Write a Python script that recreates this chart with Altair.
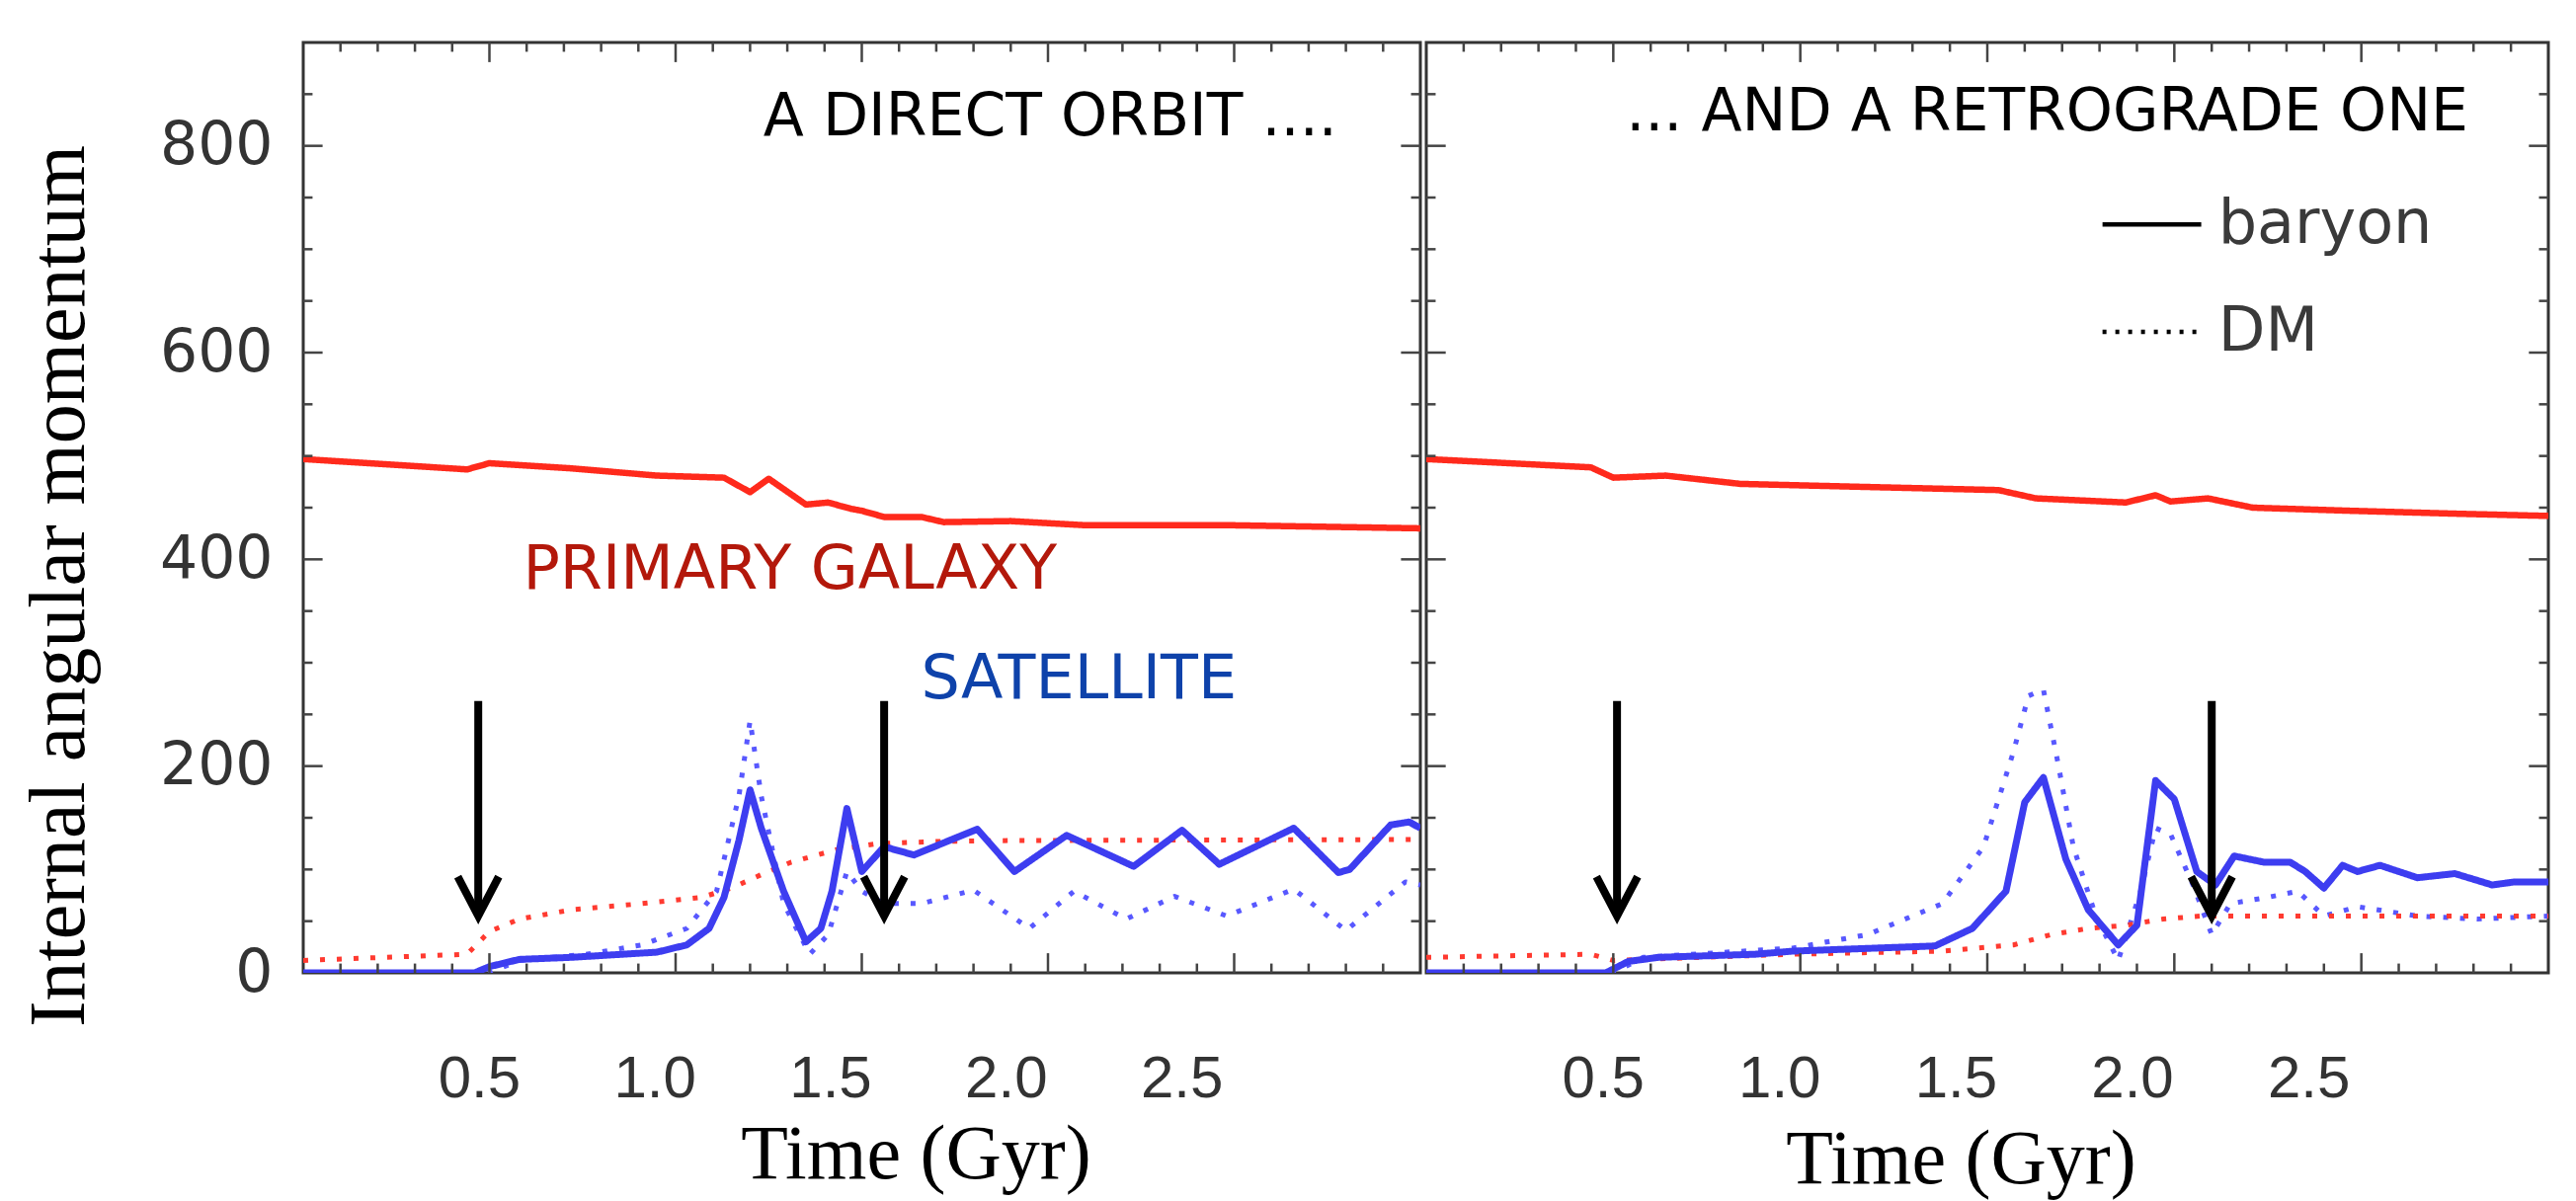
import altair as alt
import pandas as pd

# ---------------- data ----------------
# Left panel: direct orbit
dir_pri_bar_t = [0.0, 0.44, 0.50, 0.72, 0.95, 1.13, 1.20, 1.25, 1.35, 1.41, 1.47, 1.50, 1.56, 1.66, 1.72, 1.90, 2.10, 2.49, 3.0]
dir_pri_bar_v = [497, 487, 493, 488, 481, 479, 465, 478, 453, 455, 449, 447, 441, 441, 436, 437, 433, 433, 430]
dir_pri_dm_t = [0.0, 0.44, 0.50, 0.58, 0.72, 0.91, 1.07, 1.15, 1.23, 1.31, 1.43, 1.54, 1.70, 1.90, 3.0]
dir_pri_dm_v = [12, 18, 40, 52, 61, 67, 73, 82, 95, 107, 119, 125, 127, 128, 129]
dir_sat_bar_t = [0.0, 0.46, 0.50, 0.58, 0.72, 0.95, 1.03, 1.09, 1.13, 1.17, 1.20, 1.23, 1.29, 1.35, 1.39, 1.42, 1.46,
                 1.50, 1.56, 1.64, 1.81, 1.91, 2.05, 2.23, 2.36, 2.46, 2.66, 2.78, 2.81, 2.92, 2.97, 3.0]
dir_sat_bar_v = [0, 0, 6, 13, 15, 20, 27, 43, 73, 128, 177, 140, 79, 30, 43, 79, 159,
                 98, 122, 114, 139, 98, 133, 103, 138, 105, 140, 97, 100, 143, 146, 140]
dir_sat_dm_t = [0.0, 0.50, 0.58, 0.76, 0.91, 1.03, 1.11, 1.17, 1.20, 1.23, 1.29, 1.36, 1.41, 1.46, 1.50, 1.56,
                1.66, 1.80, 1.95, 2.07, 2.21, 2.34, 2.48, 2.66, 2.80, 2.96, 3.0]
dir_sat_dm_v = [0, 0, 12, 18, 27, 43, 79, 171, 244, 171, 67, 18, 37, 98, 79, 67,
                67, 80, 43, 79, 52, 74, 55, 81, 41, 88, 85]

# Right panel: retrograde orbit
ret_pri_bar_t = [0.0, 0.44, 0.50, 0.64, 0.84, 1.18, 1.53, 1.63, 1.87, 1.95, 1.99, 2.09, 2.21, 2.47, 2.77, 3.0]
ret_pri_bar_v = [497, 489, 479, 481, 473, 470, 467, 459, 455, 462, 456, 459, 450, 447, 444, 442]
ret_pri_dm_t = [0.0, 0.44, 0.50, 0.98, 1.38, 1.57, 1.67, 1.77, 1.87, 1.97, 2.07, 3.0]
ret_pri_dm_v = [15, 18, 12, 18, 21, 27, 37, 43, 46, 52, 55, 55]
ret_sat_bar_t = [0.0, 0.48, 0.54, 0.62, 0.88, 0.98, 1.36, 1.46, 1.55, 1.60, 1.65, 1.71, 1.77, 1.85, 1.90, 1.95,
                 2.00, 2.06, 2.11, 2.16, 2.24, 2.31, 2.35, 2.40, 2.45, 2.49, 2.55, 2.65, 2.75, 2.85, 2.91, 3.0]
ret_sat_bar_v = [0, 0, 11, 15, 18, 21, 26, 43, 79, 165, 189, 110, 61, 27, 46, 186,
                 168, 98, 85, 113, 107, 107, 98, 82, 104, 98, 104, 92, 96, 85, 88, 88]
ret_sat_dm_t = [0.0, 0.50, 0.58, 0.98, 1.18, 1.38, 1.49, 1.57, 1.61, 1.65, 1.69, 1.73, 1.79, 1.85, 1.91, 1.95,
                1.99, 2.05, 2.10, 2.15, 2.25, 2.33, 2.40, 2.49, 2.65, 2.81, 3.0]
ret_sat_dm_v = [0, 0, 15, 24, 37, 67, 122, 214, 268, 274, 201, 122, 55, 12, 79, 140,
                134, 85, 37, 67, 73, 79, 55, 64, 55, 52, 55]

# arrows (time of arrow, shaft top value, tip value)
arrow_t_dir = [0.47, 1.56]
arrow_t_ret = [0.51, 2.10]
arrow_top = [263]
arrow_tip = [55]

# axis ticks
x_labels = [0.5, 1.0, 1.5, 2.0, 2.5]
x_ticks = [0.1, 0.2, 0.3, 0.4, 0.5, 0.6, 0.7, 0.8, 0.9, 1.0, 1.1, 1.2, 1.3, 1.4, 1.5, 1.6, 1.7, 1.8, 1.9,
           2.0, 2.1, 2.2, 2.3, 2.4, 2.5, 2.6, 2.7, 2.8, 2.9]
y_labels = [0, 200, 400, 600, 800]
y_ticks = [50, 100, 150, 200, 250, 300, 350, 400, 450, 500, 550, 600, 650, 700, 750, 800, 850]
# the tick-label strip of the original figure is drawn at a slightly different scale
label_axis_domain = [0, 3.18]

# annotation texts
title_dir = ["A DIRECT ORBIT ...."]
title_ret = ["... AND A RETROGRADE ONE"]
label_primary = ["PRIMARY GALAXY"]
label_satellite = ["SATELLITE"]
legend_names = ["baryon", "DM"]

# ---------------- helpers ----------------
SERIES = ["sat_dm", "pri_dm", "pri_bar", "sat_bar"]
COLORS = ["#5858ff", "#ff3a30", "#ff2a1c", "#3d3df0"]
DASHES = [[5, 12], [5, 12], [1, 0], [1, 0]]
WIDTHS = [5, 5, 6.5, 7]

XS = alt.Scale(domain=[0, 3], nice=False, zero=False)
XL = alt.Scale(domain=label_axis_domain, nice=False, zero=False)
YS = alt.Scale(domain=[0, 900], nice=False, zero=False)


def make_y_axis(show_y):
    if not show_y:
        return None
    return alt.Axis(values=y_labels, tickSize=0, domain=False, grid=False,
                    labelFont="DejaVu Sans", labelFontSize=60, labelColor="#333333",
                    labelPadding=31,
                    title="Internal angular momentum", titleFont="Liberation Serif",
                    titleFontSize=80, titleFontWeight="normal", titleColor="black",
                    titleX=-247, titleY=550, titleAlign="center", titleBaseline="middle")


def lines_df(pb_t, pb_v, pd_t, pd_v, sb_t, sb_v, sd_t, sd_v):
    rows = []
    for name, ts, vs in [("pri_bar", pb_t, pb_v), ("pri_dm", pd_t, pd_v),
                         ("sat_bar", sb_t, sb_v), ("sat_dm", sd_t, sd_v)]:
        for t, v in zip(ts, vs):
            rows.append({"t": t, "v": v, "series": name})
    return pd.DataFrame(rows)


def panel(lines, arrows, texts, legend, show_y, xtitle_x, xtitle_y, width):
    ya = make_y_axis(show_y)

    def X(f):
        return alt.X(f, scale=XS, axis=None)

    def Y(f):
        return alt.Y(f, scale=YS, axis=ya)

    layers = []
    # data lines
    for s, c, d, w in zip(SERIES, COLORS, DASHES, WIDTHS):
        sub = lines[lines["series"] == s]
        layers.append(alt.Chart(sub).mark_line(color=c, strokeDash=d, strokeWidth=w, clip=True,
                                               strokeJoin="round")
                      .encode(x=X("t:Q"), y=Y("v:Q")))
    # inward ticks
    xr = []
    for p in x_ticks:
        ln = 19 if p in x_labels else 9
        xr.append({"t": p, "v": 0, "v2": ln})
        xr.append({"t": p, "v": 900, "v2": 900 - ln})
    yr = []
    for q in y_ticks:
        ln = 0.052 if q in y_labels else 0.025
        yr.append({"v": q, "t": 0, "t2": ln})
        yr.append({"v": q, "t": 3, "t2": 3 - ln})
    layers.append(alt.Chart(pd.DataFrame(xr)).mark_rule(stroke="#444444", strokeWidth=2.5).encode(
        x=X("t:Q"), y=Y("v:Q"), y2="v2:Q"))
    layers.append(alt.Chart(pd.DataFrame(yr)).mark_rule(stroke="#444444", strokeWidth=2.5).encode(
        x=X("t:Q"), x2="t2:Q", y=Y("v:Q")))
    # arrows
    shaft = pd.DataFrame({"t": arrows, "v": arrow_top * len(arrows), "v2": arrow_tip * len(arrows)})
    head_rows = []
    for i, t in enumerate(arrows):
        head_rows.append({"a": i, "o": 0, "t": t - 0.055, "v": arrow_tip[0] + 38})
        head_rows.append({"a": i, "o": 1, "t": t, "v": arrow_tip[0]})
        head_rows.append({"a": i, "o": 2, "t": t + 0.055, "v": arrow_tip[0] + 38})
    layers.append(alt.Chart(shaft).mark_rule(stroke="black", strokeWidth=8).encode(
        x=X("t:Q"), y=Y("v:Q"), y2="v2:Q"))
    layers.append(alt.Chart(pd.DataFrame(head_rows)).mark_line(
        stroke="black", strokeWidth=8, strokeJoin="miter", strokeCap="butt").encode(
        x=X("t:Q"), y=Y("v:Q"), detail="a:N", order="o:Q"))
    # annotation texts
    for txt, t, v, color, size in texts:
        df = pd.DataFrame({"txt": txt, "t": [t], "v": [v]})
        layers.append(alt.Chart(df).mark_text(font="DejaVu Sans", fontSize=size, color=color,
                                              align="center", baseline="middle").encode(
            x=X("t:Q"), y=Y("v:Q"), text="txt:N"))
    # legend
    if legend:
        for name, v, dash in [(legend_names[0], 724, [1, 0]), (legend_names[1], 620, [4, 9])]:
            ldf = pd.DataFrame({"t": [1.808], "t2": [2.072], "v": [v], "tt": [2.117], "name": [name]})
            layers.append(alt.Chart(ldf).mark_rule(strokeWidth=4.5, color="black", strokeDash=dash).encode(
                x=X("t:Q"), x2="t2:Q", y=Y("v:Q")))
            layers.append(alt.Chart(ldf).mark_text(font="DejaVu Sans", fontSize=62, color="#3a3a3a",
                                                   align="left", baseline="middle").encode(
                x=X("tt:Q"), y=Y("v:Q"), text="name:N"))
    inner = alt.layer(*layers)

    # x tick labels + title (own x scale, as in the original figure)
    x_axis = alt.Axis(values=x_labels, format=".1f", tickSize=0, domain=False, grid=False,
                      orient="bottom",
                      labelFont="Liberation Sans", labelFontSize=60, labelColor="#333333",
                      labelPadding=78, labelFlush=False,
                      title="Time (Gyr)", titleFont="Liberation Serif", titleFontSize=78,
                      titleFontWeight="normal", titleColor="black",
                      titleX=xtitle_x, titleY=xtitle_y, titleAlign="center", titleBaseline="middle")
    lab_df = pd.DataFrame({"t": x_labels, "v": [0] * len(x_labels)})
    label_layer = alt.Chart(lab_df).mark_point(opacity=0).encode(
        x=alt.X("t:Q", scale=XL, axis=x_axis), y=Y("v:Q"))

    return alt.layer(inner, label_layer).resolve_scale(x="independent").properties(width=width, height=942)


left_lines = lines_df(dir_pri_bar_t, dir_pri_bar_v, dir_pri_dm_t, dir_pri_dm_v,
                      dir_sat_bar_t, dir_sat_bar_v, dir_sat_dm_t, dir_sat_dm_v)
right_lines = lines_df(ret_pri_bar_t, ret_pri_bar_v, ret_pri_dm_t, ret_pri_dm_v,
                       ret_sat_bar_t, ret_sat_bar_v, ret_sat_dm_t, ret_sat_dm_v)

left_texts = [
    (title_dir, 2.006, 827, "black", 60),
    (label_primary, 1.307, 390, "#b3180b", 62),
    (label_satellite, 2.083, 284, "#0e42aa", 62),
]
right_texts = [
    (title_ret, 1.66, 832, "black", 60),
]

left = panel(left_lines, arrow_t_dir, left_texts, False, True, 620, 184, 1131)
right = panel(right_lines, arrow_t_ret, right_texts, True, False, 541, 189, 1136)

chart = alt.hconcat(left, right, spacing=0).resolve_scale(x="independent", y="independent").properties(
    padding={"left": 10, "top": 32, "right": 5, "bottom": 0},
    background="white",
).configure_view(stroke="#333333", strokeWidth=3)

chart.save("out.html", embed_options={"renderer": "svg", "actions": False})
